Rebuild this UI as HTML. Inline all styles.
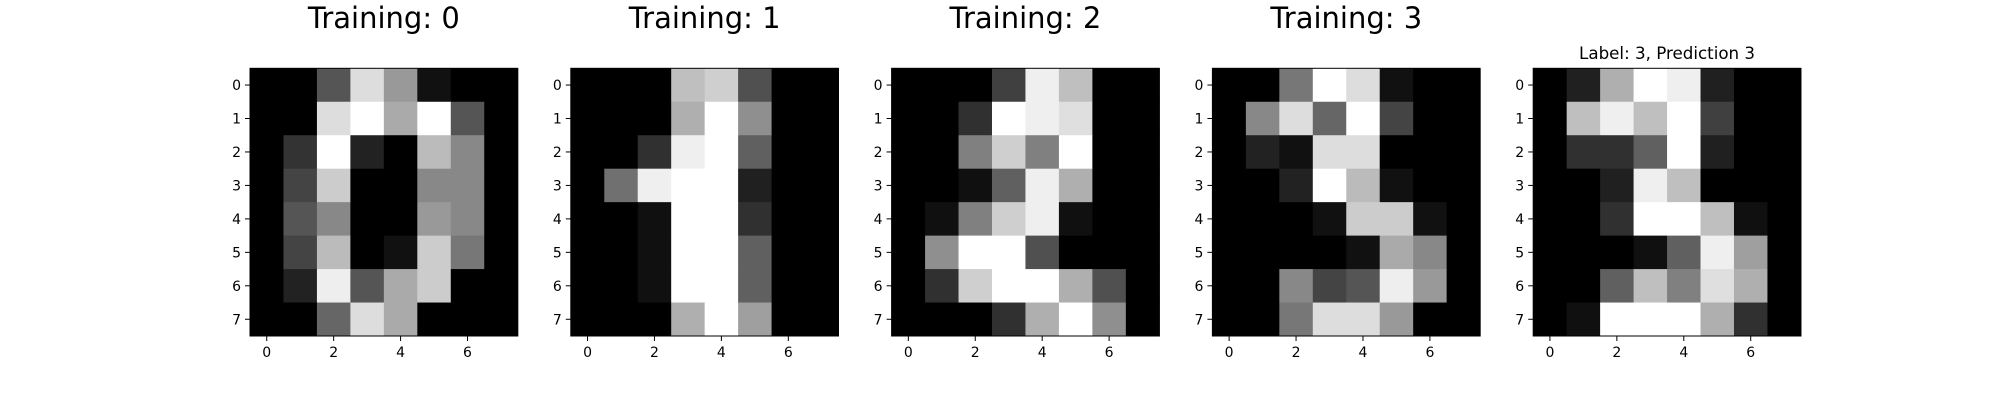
<!DOCTYPE html>
<html><head><meta charset="utf-8"><style>
body{margin:0;background:#fff;}
svg{display:block;font-family:"DejaVu Sans","Liberation Sans",sans-serif;}
</style></head><body>
<svg id="fig" width="2000" height="400" viewBox="0 0 2000 400"></svg>
<script>
const titles = ["Training: 0","Training: 1","Training: 2","Training: 3","Label: 3, Prediction 3"];
const digit0 = [[0,0,5,13,9,1,0,0],[0,0,13,15,10,15,5,0],[0,3,15,2,0,11,8,0],[0,4,12,0,0,8,8,0],[0,5,8,0,0,9,8,0],[0,4,11,0,1,12,7,0],[0,2,14,5,10,12,0,0],[0,0,6,13,10,0,0,0]];
const digit1 = [[0,0,0,12,13,5,0,0],[0,0,0,11,16,9,0,0],[0,0,3,15,16,6,0,0],[0,7,15,16,16,2,0,0],[0,0,1,16,16,3,0,0],[0,0,1,16,16,6,0,0],[0,0,1,16,16,6,0,0],[0,0,0,11,16,10,0,0]];
const digit2 = [[0,0,0,4,15,12,0,0],[0,0,3,16,15,14,0,0],[0,0,8,13,8,16,0,0],[0,0,1,6,15,11,0,0],[0,1,8,13,15,1,0,0],[0,9,16,16,5,0,0,0],[0,3,13,16,16,11,5,0],[0,0,0,3,11,16,9,0]];
const digit3 = [[0,0,7,15,13,1,0,0],[0,8,13,6,15,4,0,0],[0,2,1,13,13,0,0,0],[0,0,2,15,11,1,0,0],[0,0,0,1,12,12,1,0],[0,0,0,0,1,10,8,0],[0,0,8,4,5,14,9,0],[0,0,7,13,13,9,0,0]];
const digitPred = [[0,2,11,16,15,2,0,0],[0,12,15,12,16,4,0,0],[0,3,3,6,16,2,0,0],[0,0,2,15,12,0,0,0],[0,0,3,16,16,12,1,0],[0,0,0,1,6,15,10,0],[0,0,6,12,8,14,11,0],[0,1,16,16,16,11,3,0]];
const images = [digit0,digit1,digit2,digit3,digitPred];
const xTicks = [0,2,4,6];
const yTicks = [0,1,2,3,4,5,6,7];

const NS="http://www.w3.org/2000/svg";
const svg=document.getElementById('fig');
function mk(tag,attrs,parent){const e=document.createElementNS(NS,tag);for(const k in attrs)e.setAttribute(k,attrs[k]);parent.appendChild(e);return e;}
const left0=250, step=320.8, W=267.7, T0=68.3, H=267.7;
images.forEach((img,p)=>{
  const L=left0+p*step;
  const g=mk('g',{},svg);
  
  
  const n=img.length;
  const sx=v=>L+(v+0.5)*W/n;
  const sy=v=>T0+(v+0.5)*H/n;
  const vmax=Math.max(...img.flat()), vmin=Math.min(...img.flat());
  img.forEach((row,r)=>row.forEach((v,c)=>{
    const t=(v-vmin)/(vmax-vmin||1);const k=Math.round(t*255);
    const rc=mk('rect',{x:sx(c-0.5),y:sy(r-0.5),width:W/n+0.5,height:H/n+0.5,fill:`rgb(${k},${k},${k})`},g);
    
    
  }));
  const fr=mk('rect',{x:L,y:T0,width:W,height:H,fill:'none',stroke:'#000','stroke-width':1},g);
  
  
  xTicks.forEach(t=>{
    mk('line',{x1:sx(t),x2:sx(t),y1:T0+H,y2:T0+H+5,stroke:'#000','stroke-width':1},g);
    const tx=mk('text',{x:sx(t),y:T0+H+21,'font-size':14,'text-anchor':'middle'},g);
    tx.textContent=t;
    
    
  });
  yTicks.forEach(t=>{
    mk('line',{x1:L-5,x2:L,y1:sy(t),y2:sy(t),stroke:'#000','stroke-width':1},g);
    const tx=mk('text',{x:L-9,y:sy(t)+5,'font-size':14,'text-anchor':'end'},g);
    tx.textContent=t;
    
    
  });
  const big=p<4;
  const tt=mk('text',{x:L+W/2,y:big?28:59,'font-size':big?29:16.7,'text-anchor':'middle'},g);
  tt.textContent=titles[p];
  
  
});
</script>
</body></html>
